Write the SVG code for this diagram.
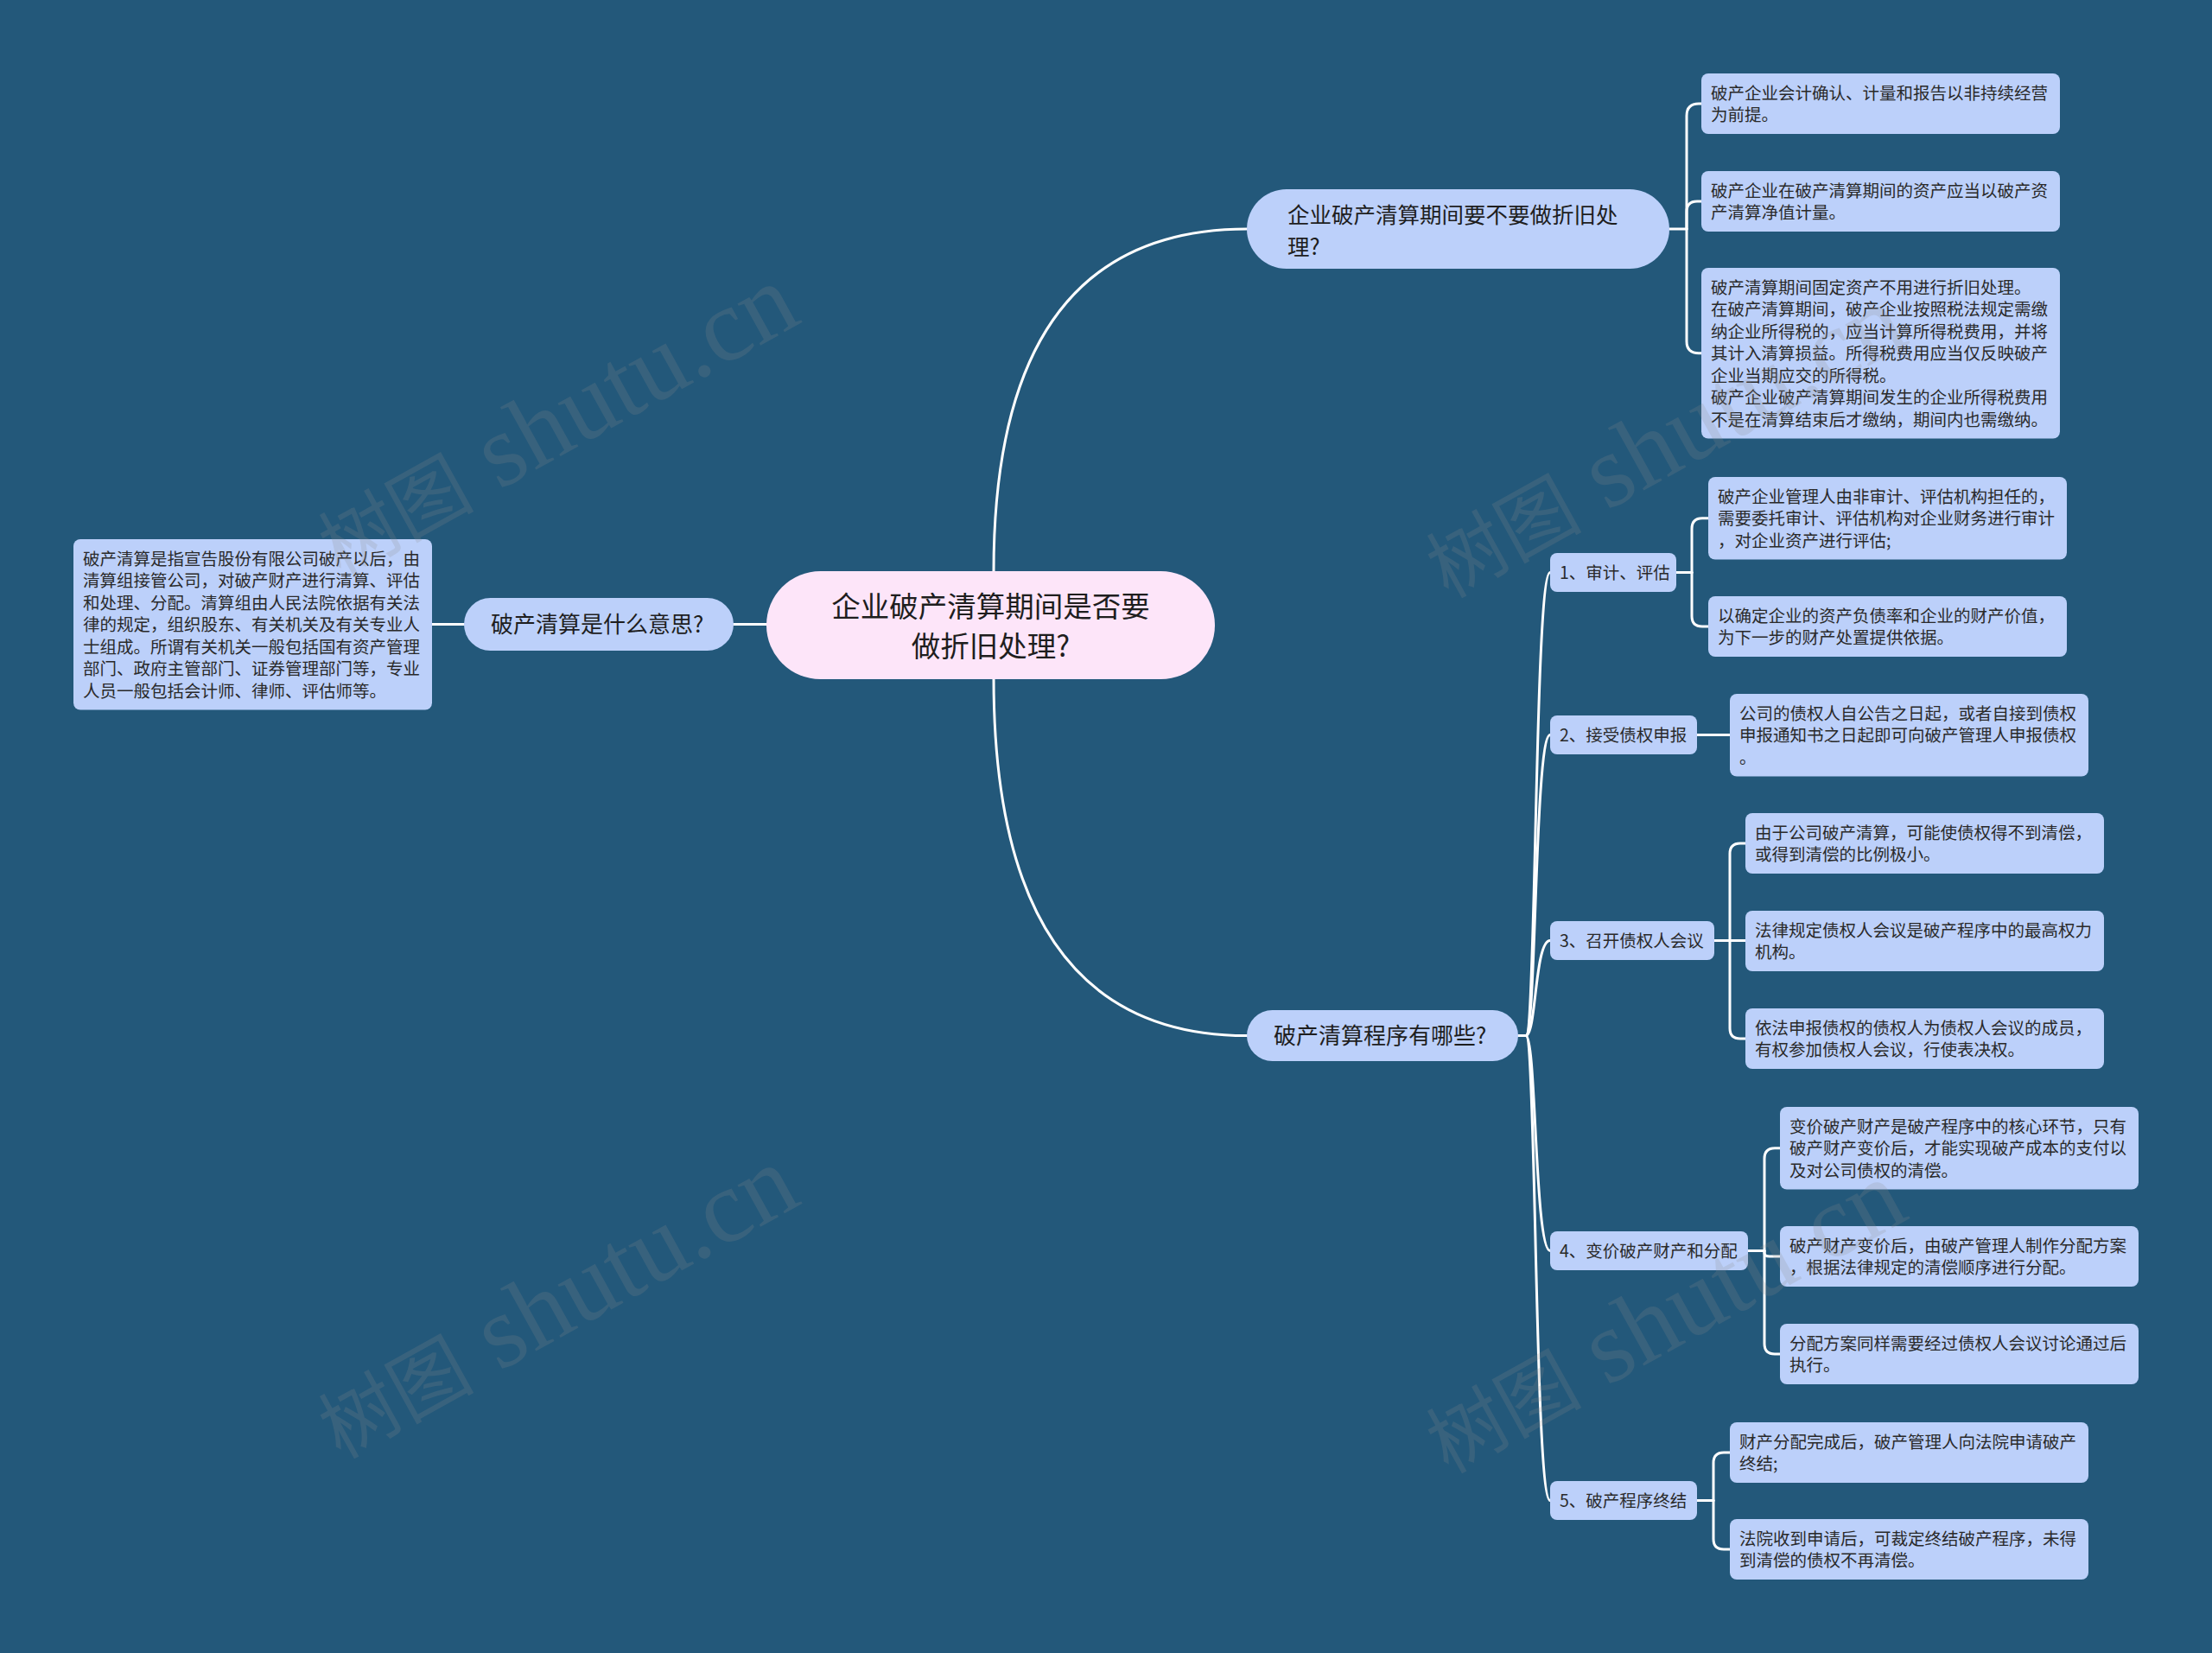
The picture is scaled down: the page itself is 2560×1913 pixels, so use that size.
<svg xmlns="http://www.w3.org/2000/svg" width="2560" height="1913" viewBox="0 0 2560 1913">
<style>
.bg{fill:#23587a}
.leaf{fill:#bcd0fa}
.sub{fill:#bcd0fa}
.br{fill:#bcd0fa}
.root{fill:#fde5f9}
.lt{font-family:"Noto Sans CJK SC","Noto Sans",sans-serif;font-size:19.5px;fill:#2a2a2a}
.bt{font-family:"Noto Sans CJK SC","Noto Sans",sans-serif;font-size:26px;fill:#1e1e1e}
.rt{font-family:"Noto Sans CJK SC","Noto Sans",sans-serif;font-size:33.5px;fill:#1e1e1e}
.ln{fill:none;stroke:#ffffff;stroke-width:3;stroke-linecap:round}
.wm{font-family:"Liberation Serif","Noto Sans CJK SC",serif;fill:#8c8c8c;opacity:0.2}
</style>
<rect class="bg" x="0" y="0" width="2560" height="1913"/>

<g id="connectors">
  <path class="ln" d="M1150 661 Q1150 265 1443 265"/>
  <path class="ln" d="M1150 785 Q1150 1198.5 1443 1198.5"/>
  <path class="ln" d="M887 722.5 H849"/>
  <path class="ln" d="M537 722.5 H500"/>
  <!-- top branch -->
  <path class="ln" d="M1932 265 H1952"/>
  <path class="ln" d="M1952 265 V134 Q1952 120 1966 120 H1969"/>
  <path class="ln" d="M1952 265 V245 Q1952 233 1964 233 H1969"/>
  <path class="ln" d="M1952 265 V395 Q1952 408.75 1966 408.75 H1969"/>
  <!-- bottom branch -->
  <path class="ln" d="M1757 1198.5 H1766"/>
  <path class="ln" d="M1766 1198.5 C1778 1198.5 1776 662.5 1794 662.5"/>
  <path class="ln" d="M1766 1198.5 C1778 1198.5 1776 850.5 1794 850.5"/>
  <path class="ln" d="M1766 1198.5 C1778 1198.5 1776 1088.5 1794 1088.5"/>
  <path class="ln" d="M1766 1198.5 C1778 1198.5 1776 1447.5 1794 1447.5"/>
  <path class="ln" d="M1766 1198.5 C1778 1198.5 1776 1736.5 1794 1736.5"/>
  <!-- node 1 -->
  <path class="ln" d="M1940 662.5 H1958"/>
  <path class="ln" d="M1958 662.5 V612 Q1958 599.75 1970 599.75 H1977"/>
  <path class="ln" d="M1958 662.5 V713 Q1958 725 1970 725 H1977"/>
  <!-- node 2 -->
  <path class="ln" d="M1964 850.5 H2002"/>
  <!-- node 3 -->
  <path class="ln" d="M1984 1088.5 H2020"/>
  <path class="ln" d="M2002 1088.5 V988 Q2002 976 2014 976 H2020"/>
  <path class="ln" d="M2002 1088.5 V1190 Q2002 1202 2014 1202 H2020"/>
  <!-- node 4 -->
  <path class="ln" d="M2023 1447.5 H2042"/>
  <path class="ln" d="M2042 1447.5 V1341 Q2042 1328.75 2054 1328.75 H2060"/>
  <path class="ln" d="M2042 1447.5 V1450 Q2042 1454 2048 1454 H2060"/>
  <path class="ln" d="M2042 1447.5 V1555 Q2042 1567 2054 1567 H2060"/>
  <!-- node 5 -->
  <path class="ln" d="M1964 1736.5 H1983"/>
  <path class="ln" d="M1983 1736.5 V1693 Q1983 1681 1995 1681 H2002"/>
  <path class="ln" d="M1983 1736.5 V1781 Q1983 1793 1995 1793 H2002"/>
</g>

<g id="root">
  <rect class="root" x="887" y="661" width="519" height="125" rx="62.5"/>
  <text class="rt" text-anchor="middle"><tspan x="1146.5" y="714">企业破产清算期间是否要</tspan><tspan x="1146.5" y="760">做折旧处理?</tspan></text>
</g>

<g id="branch-top">
  <rect class="br" x="1443" y="219" width="489" height="92" rx="46"/>
  <text class="bt" style="font-size:25.5px"><tspan x="1490" y="258">企业破产清算期间要不要做折旧处</tspan><tspan x="1490" y="295">理?</tspan></text>
</g>

<g id="branch-bottom">
  <rect class="br" x="1443" y="1169" width="314" height="59" rx="29.5"/>
  <text class="bt" x="1474" y="1208">破产清算程序有哪些?</text>
</g>

<g id="branch-left">
  <rect class="br" x="537" y="692" width="312" height="61" rx="30.5"/>
  <text class="bt" x="568" y="732">破产清算是什么意思?</text>
</g>

<g id="leaf-left">
  <rect class="leaf" x="85" y="624" width="415" height="197.5" rx="8"/>
  <text class="lt"><tspan x="96" y="653.5">破产清算是指宣告股份有限公司破产以后，由</tspan><tspan x="96" dy="25.5">清算组接管公司，对破产财产进行清算、评估</tspan><tspan x="96" dy="25.5">和处理、分配。清算组由人民法院依据有关法</tspan><tspan x="96" dy="25.5">律的规定，组织股东、有关机关及有关专业人</tspan><tspan x="96" dy="25.5">士组成。所谓有关机关一般包括国有资产管理</tspan><tspan x="96" dy="25.5">部门、政府主管部门、证券管理部门等，专业</tspan><tspan x="96" dy="25.5">人员一般包括会计师、律师、评估师等。</tspan></text>
</g>

<g id="leaf-a">
  <rect class="leaf" x="1969" y="85" width="415" height="70" rx="8"/>
  <text class="lt"><tspan x="1980" y="114.5">破产企业会计确认、计量和报告以非持续经营</tspan><tspan x="1980" dy="25.5">为前提。</tspan></text>
</g>
<g id="leaf-b">
  <rect class="leaf" x="1969" y="198" width="415" height="70" rx="8"/>
  <text class="lt"><tspan x="1980" y="227.5">破产企业在破产清算期间的资产应当以破产资</tspan><tspan x="1980" dy="25.5">产清算净值计量。</tspan></text>
</g>
<g id="leaf-c">
  <rect class="leaf" x="1969" y="310" width="415" height="197.5" rx="8"/>
  <text class="lt"><tspan x="1980" y="339.5">破产清算期间固定资产不用进行折旧处理。</tspan><tspan x="1980" dy="25.5">在破产清算期间，破产企业按照税法规定需缴</tspan><tspan x="1980" dy="25.5">纳企业所得税的，应当计算所得税费用，并将</tspan><tspan x="1980" dy="25.5">其计入清算损益。所得税费用应当仅反映破产</tspan><tspan x="1980" dy="25.5">企业当期应交的所得税。</tspan><tspan x="1980" dy="25.5">破产企业破产清算期间发生的企业所得税费用</tspan><tspan x="1980" dy="25.5">不是在清算结束后才缴纳，期间内也需缴纳。</tspan></text>
</g>

<g id="node-1">
  <rect class="sub" x="1794" y="640" width="146" height="45" rx="8"/>
  <text class="lt" x="1805" y="670">1、审计、评估</text>
</g>
<g id="leaf-1a">
  <rect class="leaf" x="1977" y="552" width="415" height="95.5" rx="8"/>
  <text class="lt"><tspan x="1988" y="581.5">破产企业管理人由非审计、评估机构担任的，</tspan><tspan x="1988" dy="25.5">需要委托审计、评估机构对企业财务进行审计</tspan><tspan x="1988" dy="25.5">，对企业资产进行评估;</tspan></text>
</g>
<g id="leaf-1b">
  <rect class="leaf" x="1977" y="690" width="415" height="70" rx="8"/>
  <text class="lt"><tspan x="1988" y="719.5">以确定企业的资产负债率和企业的财产价值，</tspan><tspan x="1988" dy="25.5">为下一步的财产处置提供依据。</tspan></text>
</g>

<g id="node-2">
  <rect class="sub" x="1794" y="828" width="170" height="45" rx="8"/>
  <text class="lt" x="1805" y="858">2、接受债权申报</text>
</g>
<g id="leaf-2">
  <rect class="leaf" x="2002" y="803" width="415" height="95.5" rx="8"/>
  <text class="lt"><tspan x="2013" y="832.5">公司的债权人自公告之日起，或者自接到债权</tspan><tspan x="2013" dy="25.5">申报通知书之日起即可向破产管理人申报债权</tspan><tspan x="2013" dy="25.5">。</tspan></text>
</g>

<g id="node-3">
  <rect class="sub" x="1794" y="1066" width="190" height="45" rx="8"/>
  <text class="lt" x="1805" y="1096">3、召开债权人会议</text>
</g>
<g id="leaf-3a">
  <rect class="leaf" x="2020" y="941" width="415" height="70" rx="8"/>
  <text class="lt"><tspan x="2031" y="970.5">由于公司破产清算，可能使债权得不到清偿，</tspan><tspan x="2031" dy="25.5">或得到清偿的比例极小。</tspan></text>
</g>
<g id="leaf-3b">
  <rect class="leaf" x="2020" y="1054" width="415" height="70" rx="8"/>
  <text class="lt"><tspan x="2031" y="1083.5">法律规定债权人会议是破产程序中的最高权力</tspan><tspan x="2031" dy="25.5">机构。</tspan></text>
</g>
<g id="leaf-3c">
  <rect class="leaf" x="2020" y="1167" width="415" height="70" rx="8"/>
  <text class="lt"><tspan x="2031" y="1196.5">依法申报债权的债权人为债权人会议的成员，</tspan><tspan x="2031" dy="25.5">有权参加债权人会议，行使表决权。</tspan></text>
</g>

<g id="node-4">
  <rect class="sub" x="1794" y="1425" width="229" height="45" rx="8"/>
  <text class="lt" x="1805" y="1455">4、变价破产财产和分配</text>
</g>
<g id="leaf-4a">
  <rect class="leaf" x="2060" y="1281" width="415" height="95.5" rx="8"/>
  <text class="lt"><tspan x="2071" y="1310.5">变价破产财产是破产程序中的核心环节，只有</tspan><tspan x="2071" dy="25.5">破产财产变价后，才能实现破产成本的支付以</tspan><tspan x="2071" dy="25.5">及对公司债权的清偿。</tspan></text>
</g>
<g id="leaf-4b">
  <rect class="leaf" x="2060" y="1419" width="415" height="70" rx="8"/>
  <text class="lt"><tspan x="2071" y="1448.5">破产财产变价后，由破产管理人制作分配方案</tspan><tspan x="2071" dy="25.5">，根据法律规定的清偿顺序进行分配。</tspan></text>
</g>
<g id="leaf-4c">
  <rect class="leaf" x="2060" y="1532" width="415" height="70" rx="8"/>
  <text class="lt"><tspan x="2071" y="1561.5">分配方案同样需要经过债权人会议讨论通过后</tspan><tspan x="2071" dy="25.5">执行。</tspan></text>
</g>

<g id="node-5">
  <rect class="sub" x="1794" y="1714" width="170" height="45" rx="8"/>
  <text class="lt" x="1805" y="1744">5、破产程序终结</text>
</g>
<g id="leaf-5a">
  <rect class="leaf" x="2002" y="1646" width="415" height="70" rx="8"/>
  <text class="lt"><tspan x="2013" y="1675.5">财产分配完成后，破产管理人向法院申请破产</tspan><tspan x="2013" dy="25.5">终结;</tspan></text>
</g>
<g id="leaf-5b">
  <rect class="leaf" x="2002" y="1758" width="415" height="70" rx="8"/>
  <text class="lt"><tspan x="2013" y="1787.5">法院收到申请后，可裁定终结破产程序，未得</tspan><tspan x="2013" dy="25.5">到清偿的债权不再清偿。</tspan></text>
</g>

<g id="watermarks">
  <text class="wm" text-anchor="middle" transform="translate(645 490) rotate(-29)" y="35"><tspan font-size="90" font-family="Noto Sans CJK SC, sans-serif">树图</tspan><tspan font-size="120"> shutu.cn</tspan></text>
  <text class="wm" text-anchor="middle" transform="translate(645 1510) rotate(-29)" y="35"><tspan font-size="90" font-family="Noto Sans CJK SC, sans-serif">树图</tspan><tspan font-size="120"> shutu.cn</tspan></text>
  <text class="wm" text-anchor="middle" transform="translate(1927 514) rotate(-29)" y="35"><tspan font-size="90" font-family="Noto Sans CJK SC, sans-serif">树图</tspan><tspan font-size="120"> shutu.cn</tspan></text>
  <text class="wm" text-anchor="middle" transform="translate(1927 1527) rotate(-29)" y="35"><tspan font-size="90" font-family="Noto Sans CJK SC, sans-serif">树图</tspan><tspan font-size="120"> shutu.cn</tspan></text>
</g>
</svg>
